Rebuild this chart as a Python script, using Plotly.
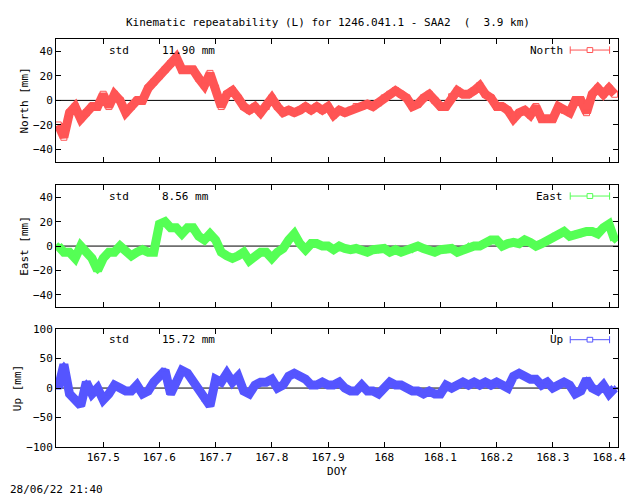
import plotly.graph_objects as go

# sample times (day of year), 0.01 d step
doy = [round(167.42 + i / 100, 2) for i in range(100)]

north = [-20, -30, -10, -5, -15, -10, -5, -5, 5, -5, 5, 0, -10, -5, 0, 0, 10, 15, 20, 25,
         30, 35, 25, 25, 25, 18, 12, 22, 10, -5, 5, 8, 2, -5, -8, -5, -10, -5, 2, -5,
         -10, -8, -10, -8, -5, -8, -5, -8, -5, -12, -8, -10, -8, -5, -5, -3, -5, -2, 2, 5,
         8, 5, 2, -5, -3, 2, 5, 0, -5, -5, 3, 8, 5, 5, 8, 12, 5, 2, -5, -5,
         -8, -15, -10, -8, -12, -5, -15, -15, -15, -5, -8, -10, 0, 0, -10, 5, 10, 5, 10, 5]
east = [0, -5, -5, -10, 0, -5, -10, -20, -10, -5, -5, 0, -5, -8, -5, -3, -5, -5, 18, 20,
        15, 15, 10, 15, 15, 8, 5, 10, 5, -5, -8, -10, -8, -5, -12, -8, -5, -5, -10, -5,
        -2, 5, 10, 2, -3, 2, 2, 0, 0, -3, 0, -2, -3, -2, -3, -5, -3, -3, -2, -5,
        -3, -5, -3, -3, 0, -2, -3, -5, -3, -3, -2, -5, -3, 0, 0, 0, 3, 5, 5, 0,
        2, 3, 2, 5, 3, 0, 2, 5, 8, 10, 12, 8, 10, 10, 12, 12, 10, 15, 18, 5]
up = [0, 40, -10, -20, -30, 10, -10, 0, -20, -10, 5, 0, -5, -5, 5, -10, -5, 10, 20, 30,
      -10, 15, 30, 25, 10, 0, -20, -30, 15, 10, 25, 10, 20, -5, -10, 5, 10, 10, 15, 0,
      5, 20, 25, 20, 15, 5, 5, 10, 5, 5, 10, 0, -5, -5, 5, -5, -5, -10, 0, 10,
      5, 5, 0, -5, -5, -10, -5, -10, -10, 5, 0, 5, 10, 5, 10, 5, 10, 5, 10, 5,
      0, 20, 25, 20, 15, 15, 5, 10, 0, 5, 10, 5, -10, -5, 15, 0, -5, 5, -10, 0]

std_text = ["std     11.90 mm", "std     8.56 mm", "std     15.72 mm"]
names = ["North", "East", "Up"]
colors = ["#ff5555", "#55ff55", "#5555ff"]
symbols = ["square-open", "diamond", "triangle-up"]
ylabels = ["North [mm]", "East [mm]", "Up [mm]"]
yranges = [[-50, 50], [-50, 50], [-100, 100]]
ytick = [[-40, -20, 0, 20, 40], [-40, -20, 0, 20, 40], [-100, -50, 0, 50, 100]]
domains = [[0.699, 1.0], [0.343, 0.642], [0.0, 0.289]]

FONT = "DejaVu Sans Mono"
fig = go.Figure()
for i, ys in enumerate([north, east, up]):
    ax = "" if i == 0 else str(i + 1)
    fig.add_trace(go.Scatter(
        x=doy, y=ys, name=names[i], mode="lines+markers", showlegend=False,
        line=dict(color=colors[i], width=9),
        marker=dict(symbol=symbols[i], size=6, color=colors[i]),
        xaxis="x" + ax, yaxis="y" + ax,
    ))
    fig.add_shape(type="line", xref="x" + ax + " domain", yref="y" + ax,
                  x0=0, x1=1, y0=0, y1=0, line=dict(color="black", width=1),
                  layer="below")
    fig.add_annotation(text=std_text[i], xref="x" + ax + " domain",
                       yref="y" + ax + " domain", x=0.09, y=0.91,
                       xanchor="left", yanchor="middle", showarrow=False,
                       font=dict(family=FONT, size=11, color="black"))
    # gnuplot-style key: label, then errorbar sample with marker
    xr, yr = "x" + ax + " domain", "y" + ax + " domain"
    fig.add_annotation(text=names[i], xref=xr, yref=yr, x=0.905, y=0.91,
                       xanchor="right", yanchor="middle", showarrow=False,
                       font=dict(family=FONT, size=11, color="black"))
    fig.add_shape(type="line", xref=xr, yref=yr, x0=0.915, x1=0.985, y0=0.91, y1=0.91,
                  line=dict(color=colors[i], width=1))
    for xe in (0.915, 0.985):
        fig.add_shape(type="line", xref=xr, yref=yr, x0=xe, x1=xe, y0=0.88, y1=0.94,
                      line=dict(color=colors[i], width=1))
    fig.add_shape(type="rect", xref=xr, yref=yr, x0=0.945, x1=0.955, y0=0.89, y1=0.93,
                  line=dict(color=colors[i], width=1), fillcolor="white")

axis_common = dict(showline=True, mirror="ticks", linecolor="black", linewidth=1,
                   ticks="inside", ticklen=5, tickcolor="black", showgrid=False,
                   zeroline=False, tickfont=dict(family=FONT, size=11, color="black"))
layout = dict(
    width=640, height=496, plot_bgcolor="white", paper_bgcolor="white",
    margin=dict(l=48, r=30, t=31, b=57, autoexpand=False),
    title=dict(text="Kinematic repeatability (L) for 1246.041.1 - SAA2  (  3.9 km)",
               x=0.5, y=0.972, xanchor="center", yanchor="middle",
               font=dict(family=FONT, size=11, color="black")),
    font=dict(family=FONT, size=11, color="black"),
)
for i in range(3):
    ax = "" if i == 0 else str(i + 1)
    layout["xaxis" + ax] = dict(axis_common, range=[167.416, 168.416],
                                tickvals=[167.5 + k / 10 for k in range(10)],
                                ticktext=["167.5", "167.6", "167.7", "167.8", "167.9",
                                          "168", "168.1", "168.2", "168.3", "168.4"],
                                showticklabels=(i == 2), anchor="y" + ax,
                                title=dict(text="DOY" if i == 2 else "",
                                           font=dict(family=FONT, size=11), standoff=4))
    layout["yaxis" + ax] = dict(axis_common, range=yranges[i], tickvals=ytick[i],
                                domain=domains[i], anchor="x" + ax,
                                title=dict(text=ylabels[i], font=dict(family=FONT, size=11),
                                           standoff=2))
fig.update_layout(**layout)
fig.add_annotation(text="28/06/22 21:40", xref="paper", yref="paper", x=-0.085, y=-0.105,
                   xanchor="left", yanchor="middle", showarrow=False,
                   font=dict(family=FONT, size=11, color="black"))
fig.write_html("out.html")
